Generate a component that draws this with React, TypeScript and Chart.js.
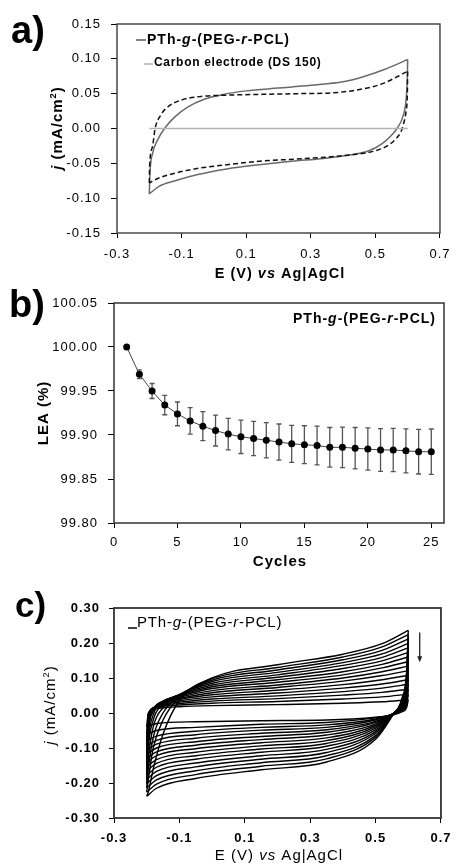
import React, { useEffect, useRef } from "react";
import { Chart, registerables } from "chart.js";
Chart.register(...registerables);

const FONT = '"Liberation Sans", Arial, Helvetica, sans-serif';
const W = 458;

// ---------------- Panel a : CV of PTh-g-(PEG-r-PCL) vs bare carbon ----------------
const A_PTH_FWD_E = [-0.2, -0.198, -0.19, -0.175, -0.153, -0.12, -0.08, -0.03, 0.03, 0.1, 0.2, 0.3, 0.4, 0.46, 0.53, 0.6];
const A_PTH_FWD_J = [-0.094, -0.064, -0.036, -0.017, 0.0, 0.017, 0.031, 0.042, 0.049, 0.054, 0.058, 0.062, 0.067, 0.074, 0.085, 0.099];
const A_PTH_REV_E = [0.6, 0.599, 0.595, 0.585, 0.567, 0.547, 0.52, 0.48, 0.42, 0.34, 0.24, 0.14, 0.04, -0.05, -0.12, -0.17, -0.2];
const A_PTH_REV_J = [0.099, 0.075, 0.041, 0.017, 0.0, -0.011, -0.022, -0.032, -0.038, -0.043, -0.047, -0.052, -0.058, -0.066, -0.075, -0.083, -0.094];
const A_DS_FWD_E = [-0.2, -0.199, -0.19, -0.182, -0.165, -0.14, -0.1, -0.04, 0.05, 0.15, 0.26, 0.36, 0.44, 0.52, 0.6];
const A_DS_FWD_J = [-0.078, -0.054, -0.026, 0.0, 0.019, 0.032, 0.041, 0.046, 0.048, 0.049, 0.05, 0.051, 0.055, 0.064, 0.082];
const A_DS_REV_E = [0.6, 0.599, 0.595, 0.588, 0.58, 0.565, 0.54, 0.5, 0.44, 0.35, 0.25, 0.14, 0.04, -0.06, -0.12, -0.17, -0.2];
const A_DS_REV_J = [0.082, 0.05, 0.025, 0.008, -0.004, -0.014, -0.024, -0.032, -0.037, -0.041, -0.044, -0.047, -0.052, -0.058, -0.064, -0.071, -0.078];
const A_CARBON_E = [-0.2, 0.6];
const A_CARBON_J = [0, 0];
const A_LEGEND = ["PTh-g-(PEG-r-PCL)", "Carbon electrode (DS 150)"];

// ---------------- Panel b : LEA vs cycles ----------------
const B_CYCLES = [1, 2, 3, 4, 5, 6, 7, 8, 9, 10, 11, 12, 13, 14, 15, 16, 17, 18, 19, 20, 21, 22, 23, 24, 25];
const B_LEA = [100.0, 99.969, 99.95, 99.934, 99.924, 99.916, 99.91, 99.905, 99.901, 99.898, 99.896, 99.894, 99.892, 99.89, 99.889, 99.888, 99.886, 99.886, 99.885, 99.884, 99.883, 99.883, 99.882, 99.881, 99.881];
const B_ERR = [0, 0.005, 0.0085, 0.011, 0.0135, 0.015, 0.0165, 0.0175, 0.018, 0.019, 0.0195, 0.02, 0.0205, 0.021, 0.0215, 0.022, 0.0225, 0.023, 0.0235, 0.024, 0.0243, 0.0246, 0.025, 0.0253, 0.0258];

// ---------------- Panel c : repeated CV cycles ----------------
const C_FWD_E = [-0.2, -0.195, -0.18, -0.15, -0.1, 0.0, 0.2, 0.4, 0.52, 0.6];
const C_REV_E = [0.6, 0.595, 0.58, 0.55, 0.5, 0.35, 0.15, -0.05, -0.17, -0.2];
const C_FWD_J = [
  [-0.238, -0.225, -0.16, -0.06, 0.035, 0.1, 0.138, 0.168, 0.198, 0.236],
  [-0.226, -0.19, -0.1, -0.02, 0.045, 0.098, 0.13, 0.16, 0.189, 0.224],
  [-0.214, -0.16, -0.07, 0.0, 0.05, 0.094, 0.123, 0.152, 0.179, 0.212],
  [-0.202, -0.13, -0.04, 0.015, 0.052, 0.09, 0.116, 0.144, 0.169, 0.199],
  [-0.19, -0.1, -0.02, 0.025, 0.053, 0.085, 0.109, 0.136, 0.159, 0.186],
  [-0.178, -0.08, -0.005, 0.03, 0.052, 0.08, 0.102, 0.127, 0.149, 0.173],
  [-0.166, -0.06, 0.005, 0.033, 0.05, 0.075, 0.095, 0.118, 0.139, 0.16],
  [-0.154, -0.045, 0.01, 0.034, 0.048, 0.07, 0.088, 0.109, 0.129, 0.147],
  [-0.142, -0.035, 0.012, 0.033, 0.045, 0.064, 0.08, 0.1, 0.118, 0.134],
  [-0.13, -0.025, 0.014, 0.032, 0.042, 0.058, 0.073, 0.091, 0.107, 0.121],
  [-0.118, -0.018, 0.015, 0.03, 0.039, 0.052, 0.065, 0.081, 0.095, 0.108],
  [-0.106, -0.012, 0.015, 0.028, 0.035, 0.046, 0.057, 0.071, 0.083, 0.095],
  [-0.094, -0.008, 0.014, 0.025, 0.031, 0.04, 0.049, 0.061, 0.071, 0.082],
  [-0.08, -0.005, 0.013, 0.022, 0.027, 0.034, 0.041, 0.051, 0.059, 0.068],
  [-0.062, -0.003, 0.012, 0.019, 0.023, 0.028, 0.033, 0.04, 0.046, 0.054],
  [-0.04, 0.0, 0.01, 0.015, 0.018, 0.021, 0.024, 0.028, 0.032, 0.038],
];
const C_REV_J = [
  [0.236, 0.12, 0.04, -0.01, -0.075, -0.14, -0.162, -0.187, -0.215, -0.238],
  [0.224, 0.11, 0.036, -0.009, -0.069, -0.131, -0.152, -0.176, -0.203, -0.226],
  [0.212, 0.1, 0.033, -0.008, -0.064, -0.122, -0.142, -0.165, -0.191, -0.214],
  [0.199, 0.09, 0.03, -0.007, -0.058, -0.113, -0.132, -0.154, -0.179, -0.202],
  [0.186, 0.082, 0.027, -0.006, -0.053, -0.104, -0.122, -0.143, -0.167, -0.19],
  [0.173, 0.074, 0.025, -0.005, -0.048, -0.095, -0.112, -0.132, -0.155, -0.178],
  [0.16, 0.067, 0.023, -0.005, -0.043, -0.087, -0.103, -0.122, -0.144, -0.166],
  [0.147, 0.06, 0.021, -0.004, -0.039, -0.079, -0.094, -0.112, -0.133, -0.154],
  [0.134, 0.054, 0.019, -0.004, -0.035, -0.071, -0.085, -0.102, -0.122, -0.142],
  [0.121, 0.048, 0.017, -0.004, -0.031, -0.063, -0.076, -0.092, -0.111, -0.13],
  [0.108, 0.042, 0.015, -0.004, -0.027, -0.055, -0.067, -0.082, -0.1, -0.118],
  [0.095, 0.036, 0.013, -0.004, -0.024, -0.048, -0.058, -0.072, -0.089, -0.106],
  [0.082, 0.031, 0.011, -0.004, -0.02, -0.041, -0.049, -0.062, -0.078, -0.094],
  [0.068, 0.026, 0.009, -0.004, -0.017, -0.034, -0.041, -0.052, -0.066, -0.08],
  [0.054, 0.021, 0.006, -0.005, -0.014, -0.027, -0.032, -0.041, -0.05, -0.062],
  [0.038, 0.016, 0.003, -0.006, -0.012, -0.02, -0.022, -0.025, -0.03, -0.04],
];
const C_ARROW = { e: 0.635, jTop: 0.23, jBottom: 0.145 };

// ---------------- helpers ----------------
type Seg = { t: string; it?: boolean; sz?: number; dy?: number };
type RichOpts = {
  size: number;
  bold?: boolean;
  align?: "left" | "center" | "right";
  rot?: boolean;
  sp?: number;
  color?: string;
  baseline?: CanvasTextBaseline;
};

function rich(ctx: any, segs: Seg[], x: number, y: number, o: RichOpts) {
  ctx.save();
  ctx.letterSpacing = (o.sp ?? 0) + "px";
  ctx.fillStyle = o.color ?? "#000";
  ctx.textBaseline = o.baseline ?? "middle";
  ctx.textAlign = "left";
  const font = (s: Seg) => `${s.it ? "italic " : ""}${o.bold ? "bold " : ""}${s.sz ?? o.size}px ${FONT}`;
  let total = 0;
  const ws = segs.map((s) => {
    ctx.font = font(s);
    const w = ctx.measureText(s.t).width;
    total += w;
    return w;
  });
  ctx.translate(x, y);
  if (o.rot) ctx.rotate(-Math.PI / 2);
  let cx = o.align === "center" ? -total / 2 : o.align === "right" ? -total : 0;
  segs.forEach((s, i) => {
    ctx.font = font(s);
    ctx.fillText(s.t, cx, s.dy ?? 0);
    cx += ws[i];
  });
  ctx.restore();
}

// split "PTh-g-(PEG-r-PCL)" style names into segments with italic g / r
function polymerSegs(name: string, sz?: number): Seg[] {
  const m = name.match(/^(PTh-)(g)(-\(PEG-)(r)(-PCL\))$/);
  if (!m) return [{ t: name, sz }];
  return [
    { t: m[1], sz },
    { t: m[2], it: true, sz },
    { t: m[3], sz },
    { t: m[4], it: true, sz },
    { t: m[5], sz },
  ];
}

function jSegs(size: number): Seg[] {
  return [
    { t: "j", it: true },
    { t: " (mA/cm" },
    { t: "2", sz: size * 0.62, dy: -size * 0.3 },
    { t: ")" },
  ];
}
const E_SEGS: Seg[] = [{ t: "E (V) " }, { t: "vs", it: true }, { t: " Ag|AgCl" }];

function pts(E: number[], J: number[]) {
  return E.map((e, i) => ({ x: e, y: J[i] }));
}

function curve(E: number[], J: number[], extra: any) {
  return {
    data: pts(E, J),
    pointRadius: 0,
    cubicInterpolationMode: "monotone",
    fill: false,
    borderWidth: 1.5,
    ...extra,
  };
}

function axis(o: {
  min: number;
  max: number;
  step: number;
  dec: number;
  fit: (s: any) => void;
  bold?: boolean;
  pad: number;
  tl: number;
}) {
  return {
    type: "linear",
    min: o.min,
    max: o.max,
    afterFit: o.fit,
    border: { display: false },
    grid: { drawOnChartArea: false, drawTicks: true, tickLength: o.tl, color: "#000", lineWidth: 1 },
    ticks: {
      stepSize: o.step,
      includeBounds: false,
      autoSkip: false,
      maxRotation: 0,
      minRotation: 0,
      padding: o.pad,
      color: "#000",
      font: { family: FONT, size: 13, weight: o.bold ? "bold" : "normal" },
      callback: (v: any) => Number(v).toFixed(o.dec),
    },
  };
}

function frame(chart: any, color: string, width: number) {
  const { ctx, chartArea: a } = chart;
  ctx.save();
  ctx.strokeStyle = color;
  ctx.lineWidth = width;
  ctx.strokeRect(a.left, a.top, a.right - a.left, a.bottom - a.top);
  ctx.restore();
}

function legendLine(ctx: any, x1: number, x2: number, y: number, color: string, w: number) {
  ctx.save();
  ctx.strokeStyle = color;
  ctx.lineWidth = w;
  ctx.beginPath();
  ctx.moveTo(x1, y);
  ctx.lineTo(x2, y);
  ctx.stroke();
  ctx.restore();
}

const baseOpts = (padding: any) => ({
  responsive: false,
  animation: false,
  layout: { padding },
  plugins: { legend: { display: false }, tooltip: { enabled: false } },
  elements: { line: { capBezierPoints: true } },
});

// ---------------- chart configs ----------------
function configA() {
  return {
    type: "line",
    data: {
      datasets: [
        curve(A_CARBON_E, A_CARBON_J, { borderColor: "#b4b4b4", cubicInterpolationMode: "default" }),
        curve(A_DS_FWD_E, A_DS_FWD_J, { borderColor: "#111", borderDash: [5, 3] }),
        curve(A_DS_REV_E, A_DS_REV_J, { borderColor: "#111", borderDash: [5, 3] }),
        curve(A_PTH_FWD_E, A_PTH_FWD_J, { borderColor: "#6a6a6a" }),
        curve(A_PTH_REV_E, A_PTH_REV_J, { borderColor: "#6a6a6a" }),
      ],
    },
    options: {
      ...baseOpts({ left: 0, right: 13, top: 24, bottom: 0 }),
      scales: {
        x: axis({ min: -0.3, max: 0.7, step: 0.2, dec: 1, pad: 9, tl: 5, fit: (s) => { s.height = 52; } }),
        y: axis({ min: -0.15, max: 0.15, step: 0.05, dec: 2, pad: 10, tl: 6, fit: (s) => { s.width = 117; } }),
      },
    },
    plugins: [
      {
        id: "overlayA",
        beforeDraw(chart: any) {
          chart.ctx.letterSpacing = "1px";
        },
        afterDraw(chart: any) {
          const ctx = chart.ctx;
          frame(chart, "#4a4a4a", 1.5);
          rich(ctx, [{ t: "a)" }], 11, 43, { size: 38, bold: true, baseline: "alphabetic" });
          rich(ctx, jSegs(15), 58, 128, { size: 15, bold: true, rot: true, align: "center", sp: 1 });
          rich(ctx, E_SEGS, 280, 274, { size: 14.5, bold: true, align: "center", sp: 1 });
          legendLine(ctx, 136, 146, 40, "#5a5a5a", 1.5);
          rich(ctx, polymerSegs(A_LEGEND[0]), 147, 40, { size: 14, bold: true, sp: 1 });
          legendLine(ctx, 144, 153, 64, "#b0b0b0", 1.5);
          rich(ctx, [{ t: A_LEGEND[1] }], 154, 63, { size: 12, bold: true, sp: 0.7 });
        },
      },
    ],
  };
}

function configB() {
  return {
    type: "line",
    data: {
      datasets: [
        {
          data: pts(B_CYCLES, B_LEA),
          borderColor: "#444",
          borderWidth: 1,
          pointRadius: 3.5,
          pointBackgroundColor: "#000",
          pointBorderColor: "#000",
          pointBorderWidth: 0,
          tension: 0,
          fill: false,
        },
      ],
    },
    options: {
      ...baseOpts({ left: 0, right: 14, top: 23, bottom: 0 }),
      scales: {
        x: axis({ min: 0, max: 26, step: 5, dec: 0, pad: 7, tl: 5, fit: (s) => { s.height = 57; } }),
        y: axis({ min: 99.8, max: 100.05, step: 0.05, dec: 2, pad: 10, tl: 6, fit: (s) => { s.width = 114; } }),
      },
    },
    plugins: [
      {
        id: "overlayB",
        beforeDraw(chart: any) {
          chart.ctx.letterSpacing = "1px";
        },
        beforeDatasetsDraw(chart: any) {
          const { ctx, scales } = chart;
          ctx.save();
          ctx.strokeStyle = "#555";
          ctx.lineWidth = 1.3;
          B_CYCLES.forEach((c, i) => {
            if (!B_ERR[i]) return;
            const x = scales.x.getPixelForValue(c);
            const y1 = scales.y.getPixelForValue(B_LEA[i] + B_ERR[i]);
            const y2 = scales.y.getPixelForValue(B_LEA[i] - B_ERR[i]);
            ctx.beginPath();
            ctx.moveTo(x, y1);
            ctx.lineTo(x, y2);
            ctx.moveTo(x - 2.5, y1);
            ctx.lineTo(x + 2.5, y1);
            ctx.moveTo(x - 2.5, y2);
            ctx.lineTo(x + 2.5, y2);
            ctx.stroke();
          });
          ctx.restore();
        },
        afterDraw(chart: any) {
          const ctx = chart.ctx;
          frame(chart, "#333", 1.5);
          rich(ctx, [{ t: "b)" }], 9, 37, { size: 38, bold: true, baseline: "alphabetic" });
          rich(ctx, [{ t: "LEA (%)" }], 44, 133, { size: 15, bold: true, rot: true, align: "center", sp: 1 });
          rich(ctx, [{ t: "Cycles" }], 280, 282, { size: 15, bold: true, align: "center", sp: 1 });
          rich(ctx, polymerSegs(A_LEGEND[0]), 436, 39, { size: 14, bold: true, align: "right", sp: 1 });
        },
      },
    ],
  };
}

function configC() {
  const datasets: any[] = [];
  C_FWD_J.forEach((j, i) => {
    datasets.push(curve(C_FWD_E, j, { borderColor: "#000", borderWidth: 1.4 }));
    datasets.push(curve(C_REV_E, C_REV_J[i], { borderColor: "#000", borderWidth: 1.4 }));
  });
  return {
    type: "line",
    data: { datasets },
    options: {
      ...baseOpts({ left: 0, right: 15, top: 30, bottom: 0 }),
      scales: {
        x: axis({ min: -0.3, max: 0.7, step: 0.2, dec: 1, bold: true, pad: 8, tl: 5, fit: (s) => { s.height = 47; } }),
        y: axis({ min: -0.3, max: 0.3, step: 0.1, dec: 2, bold: true, pad: 9, tl: 5, fit: (s) => { s.width = 114; } }),
      },
    },
    plugins: [
      {
        id: "overlayC",
        beforeDraw(chart: any) {
          chart.ctx.letterSpacing = "1px";
        },
        afterDraw(chart: any) {
          const { ctx, scales } = chart;
          frame(chart, "#333", 1.8);
          // arrow showing decreasing current with cycling
          const ax = scales.x.getPixelForValue(C_ARROW.e);
          const ay1 = scales.y.getPixelForValue(C_ARROW.jTop);
          const ay2 = scales.y.getPixelForValue(C_ARROW.jBottom);
          ctx.save();
          ctx.strokeStyle = "#222";
          ctx.fillStyle = "#222";
          ctx.lineWidth = 1.3;
          ctx.beginPath();
          ctx.moveTo(ax, ay1);
          ctx.lineTo(ax, ay2 - 5);
          ctx.stroke();
          ctx.beginPath();
          ctx.moveTo(ax - 2.5, ay2 - 6);
          ctx.lineTo(ax + 2.5, ay2 - 6);
          ctx.lineTo(ax, ay2);
          ctx.closePath();
          ctx.fill();
          ctx.restore();
          rich(ctx, [{ t: "c)" }], 15, 39, { size: 35, bold: true, baseline: "alphabetic" });
          rich(ctx, jSegs(15), 51, 127, { size: 15, rot: true, align: "center", sp: 1 });
          rich(ctx, E_SEGS, 279, 278, { size: 15, align: "center", sp: 1 });
          legendLine(ctx, 128, 137, 50, "#000", 1.5);
          rich(ctx, polymerSegs(A_LEGEND[0]), 137, 45, { size: 15, sp: 0.8 });
        },
      },
    ],
  };
}

function ChartBox({ top, height, make }: { top: number; height: number; make: () => any }) {
  const ref = useRef<HTMLCanvasElement>(null);
  useEffect(() => {
    const chart = new Chart(ref.current as HTMLCanvasElement, make());
    return () => chart.destroy();
  }, []);
  return (
    <canvas
      ref={ref}
      width={W}
      height={height}
      style={{ position: "absolute", left: 0, top, width: W, height, display: "block" }}
    />
  );
}

export default function App() {
  return (
    <div style={{ position: "absolute", left: 0, top: 0, width: W, height: 865, background: "#fff", overflow: "hidden" }}>
      <ChartBox top={0} height={285} make={configA} />
      <ChartBox top={280} height={300} make={configB} />
      <ChartBox top={578} height={287} make={configC} />
    </div>
  );
}
